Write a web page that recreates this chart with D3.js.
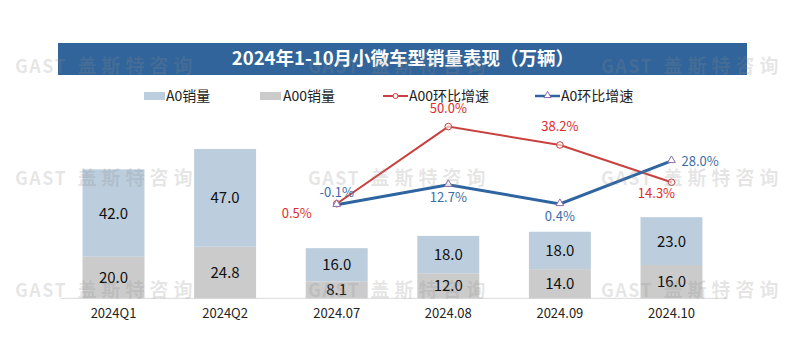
<!DOCTYPE html>
<html><head><meta charset="utf-8">
<script src="https://cdn.jsdelivr.net/npm/d3@7/dist/d3.min.js"></script>
<style>body{margin:0;background:#fff}svg{display:block}</style>
</head><body>
<svg id="chart" width="800" height="357"></svg>
<script>
const categories = ["2024Q1","2024Q2","2024.07","2024.08","2024.09","2024.10"];
const a0Sales = [42.0, 47.0, 16.0, 18.0, 18.0, 23.0];
const a00Sales = [20.0, 24.8, 8.1, 12.0, 14.0, 16.0];
const lineCategories = ["2024.07","2024.08","2024.09","2024.10"];
const a00Growth = [0.5, 50.0, 38.2, 14.3];
const a0Growth = [-0.1, 12.7, 0.4, 28.0];
const a00LabelPos = ["left","above","above","belowLeft"];
const a0LabelPos = ["above","below","below","right"];
const titleText = "2024年1-10月小微车型销量表现（万辆）";
const legendLabels = ["A0销量","A00销量","A00环比增速","A0环比增速"];
const watermarkLatin = "GAST";
const watermarkCJK = "盖斯特咨询";

const font = "'Noto Sans CJK SC','Microsoft YaHei',sans-serif";
const svg = d3.select("#chart");
const cA0 = "#bccddd", cA00 = "#cbcbcb", cRed = "#c9413f", cBlue = "#2e64a0";

const x = d3.scaleBand().domain(categories).range([58, 727]).paddingInner(0.445).paddingOuter(0.22);
const y = d3.scaleLinear().domain([0, 80]).range([298.3, 131.9]);
const y2 = d3.scaleLinear().domain([-60, 60]).range([298, 111]);

// title banner
svg.append("rect").attr("x", 58).attr("y", 43).attr("width", 689).attr("height", 32).attr("fill", "#30649a");
svg.append("text").attr("x", 403).attr("y", 65).attr("text-anchor", "middle")
  .attr("font-family", font).attr("font-size", 18.5).attr("font-weight", "bold").attr("fill", "#fff").text(titleText);

// legend
const lg = svg.append("g").attr("font-family", font).attr("font-size", 14).attr("fill", "#222");
lg.append("rect").attr("x", 144).attr("y", 92).attr("width", 21).attr("height", 8).attr("fill", cA0);
lg.append("text").attr("x", 166).attr("y", 101).text(legendLabels[0]);
lg.append("rect").attr("x", 260).attr("y", 92).attr("width", 21).attr("height", 8).attr("fill", cA00);
lg.append("text").attr("x", 283).attr("y", 101).text(legendLabels[1]);
lg.append("line").attr("x1", 383).attr("x2", 408).attr("y1", 96).attr("y2", 96).attr("stroke", cRed).attr("stroke-width", 2);
lg.append("circle").attr("cx", 395.5).attr("cy", 96).attr("r", 2.5).attr("fill", "#fff").attr("stroke", cRed);
lg.append("text").attr("x", 409).attr("y", 101).text(legendLabels[2]);
lg.append("line").attr("x1", 535).attr("x2", 560).attr("y1", 96).attr("y2", 96).attr("stroke", cBlue).attr("stroke-width", 2.5);
lg.append("path").attr("d", d3.symbol(d3.symbolTriangle, 22)()).attr("transform", "translate(547.5,95.5)").attr("fill", "#fff").attr("stroke", "#8a6bb0");
lg.append("text").attr("x", 561).attr("y", 101).text(legendLabels[3]);

// baseline
svg.append("line").attr("x1", 60).attr("x2", 727).attr("y1", y(0)).attr("y2", y(0)).attr("stroke", "#d9d9d9").attr("stroke-width", 1);

// bars
const bars = svg.append("g");
bars.selectAll(".a00").data(categories).join("rect")
  .attr("x", d => x(d)).attr("width", x.bandwidth())
  .attr("y", (d, i) => y(a00Sales[i])).attr("height", (d, i) => y(0) - y(a00Sales[i])).attr("fill", cA00);
bars.selectAll(".a0").data(categories).join("rect")
  .attr("x", d => x(d)).attr("width", x.bandwidth())
  .attr("y", (d, i) => y(a00Sales[i] + a0Sales[i])).attr("height", (d, i) => y(a00Sales[i]) - y(a00Sales[i] + a0Sales[i])).attr("fill", cA0);

// x labels
svg.append("g").selectAll("text").data(categories).join("text")
  .attr("x", d => x(d) + x.bandwidth() / 2).attr("y", 318).attr("text-anchor", "middle")
  .attr("font-family", font).attr("font-size", 13).attr("fill", "#222").text(d => d);

// bar value labels
const bl = svg.append("g").attr("font-family", font).attr("font-size", 15).attr("fill", "#111").attr("text-anchor", "middle");
categories.forEach((c, i) => {
  const cx = x(c) + x.bandwidth() / 2;
  bl.append("text").attr("x", cx).attr("y", (y(a00Sales[i]) + y(a00Sales[i] + a0Sales[i])) / 2 + 5.5).text(a0Sales[i].toFixed(1));
  bl.append("text").attr("x", cx).attr("y", (y(0) + y(a00Sales[i])) / 2 + 5.5).text(a00Sales[i].toFixed(1));
});

// lines
const lx = d => x(d) + x.bandwidth() / 2;
const line = d3.line().x(d => lx(d[0])).y(d => y2(d[1]));
svg.append("path").datum(lineCategories.map((c, i) => [c, a00Growth[i]])).attr("d", line)
  .attr("fill", "none").attr("stroke", cRed).attr("stroke-width", 2);
svg.append("path").datum(lineCategories.map((c, i) => [c, a0Growth[i]])).attr("d", line)
  .attr("fill", "none").attr("stroke", cBlue).attr("stroke-width", 3);
svg.append("g").selectAll("circle").data(lineCategories).join("circle")
  .attr("cx", d => lx(d)).attr("cy", (d, i) => y2(a00Growth[i])).attr("r", 3.3)
  .attr("fill", "#fff").attr("fill-opacity", 0.6).attr("stroke", cRed).attr("stroke-width", 1);
svg.append("g").selectAll("path").data(lineCategories).join("path")
  .attr("d", d3.symbol(d3.symbolTriangle, 26)())
  .attr("transform", (d, i) => `translate(${lx(d)},${y2(a0Growth[i]) - 0.5})`)
  .attr("fill", "#fff").attr("stroke", "#8a6bb0").attr("stroke-width", 1);

function place(pos, px, py) {
  switch (pos) {
    case "above": return [px, py - 14, "middle"];
    case "below": return [px, py + 17, "middle"];
    case "left": return [px - 40, py + 14, "middle"];
    case "belowLeft": return [px - 15, py + 16, "middle"];
    case "right": return [px + 10, py + 5, "start"];
  }
}
const ll = svg.append("g").attr("font-family", font).attr("font-size", 13);
lineCategories.forEach((c, i) => {
  const p = place(a00LabelPos[i], lx(c), y2(a00Growth[i]));
  ll.append("text").attr("x", p[0]).attr("y", p[1]).attr("text-anchor", p[2]).attr("fill", "#e02b2b").text(a00Growth[i].toFixed(1) + "%");
  const q = place(a0LabelPos[i], lx(c), y2(a0Growth[i]));
  if (a0LabelPos[i] === "above") q[1] = y2(a0Growth[i]) - 8;
  ll.append("text").attr("x", q[0]).attr("y", q[1]).attr("text-anchor", q[2]).attr("fill", "#3b6ea8").text(a0Growth[i].toFixed(1) + "%");
});

// watermarks
const wm = svg.append("g").attr("font-family", font).attr("font-weight", "bold")
  .attr("fill", "#8c8c8c").attr("fill-opacity", 0.22);
[73, 185, 297].forEach(wy => [15, 308, 601].forEach(wx => {
  const t = wm.append("text").attr("x", wx).attr("y", wy);
  t.append("tspan").attr("font-size", 18).attr("letter-spacing", 1.5).text(watermarkLatin);
  t.append("tspan").attr("dx", 10).attr("font-size", 19).attr("letter-spacing", 5).text(watermarkCJK);
}));
</script>
</body></html>
